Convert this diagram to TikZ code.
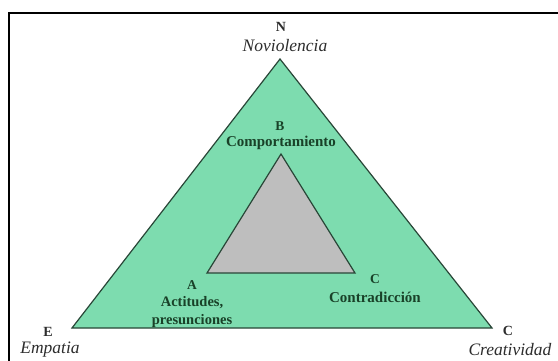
\documentclass[tikz,border=0pt]{standalone}
\usepackage{fontspec}
\setmainfont{Liberation Serif}
\definecolor{mint}{RGB}{125,220,175}
\definecolor{innergray}{RGB}{190,190,190}
\definecolor{edge}{RGB}{40,70,55}
\definecolor{lblgreen}{RGB}{25,65,40}
\definecolor{lblgray}{RGB}{45,45,45}
\tikzset{
  tri/.style={draw=edge, line width=1.2pt, line join=miter},
  letter/.style={inner sep=0pt, font=\fontsize{14}{14}\selectfont\bfseries, text=lblgray},
  innerletter/.style={inner sep=0pt, font=\fontsize{13.5}{13.5}\selectfont\bfseries, text=lblgreen},
  innerlbl/.style={inner sep=0pt, align=center, text=lblgreen},
  outerlbl/.style={inner sep=0pt, text=lblgray, font=\fontsize{17.5}{17.5}\selectfont\itshape},
}
\begin{document}
\begin{tikzpicture}[x=1pt,y=-1pt]
\useasboundingbox[fill=white] (0,0) rectangle (558,360);
% frame (top and left edges)
\coordinate (fTL) at (9,13);
\coordinate (fTR) at (560,13);
\coordinate (fBL) at (9,362);
\draw[line width=1.5pt] (fBL) -- (fTL) -- (fTR);
% outer triangle
\coordinate (Nv) at (280,59);
\coordinate (Ev) at (72,328);
\coordinate (Cv) at (492,328);
\filldraw[tri, fill=mint] (Nv) -- (Ev) -- (Cv) -- cycle;
% inner triangle
\coordinate (Bv) at (281,154);
\coordinate (Av) at (207,273);
\coordinate (Iv) at (355,273);
\filldraw[tri, fill=innergray] (Bv) -- (Av) -- (Iv) -- cycle;
% outer labels
\node[letter] (N) at (281,27) {N};
\node[outerlbl] (Nl) at (285,46) {Noviolencia};
\node[letter] (E) at (48,332) {E};
\node[outerlbl] (El) at (50,349.5) {Empatia};
\node[letter] (C) at (508,331) {C};
\node[outerlbl] (Cl) at (510,349.5) {Creatividad};
% inner labels
\node[innerletter] (B) at (280,126) {B};
\node[innerlbl, font=\fontsize{15}{15}\selectfont\bfseries] (Bl) at (281,143) {Comportamiento};
\node[innerletter] (A) at (192,285) {A};
\node[innerlbl, font=\fontsize{14.5}{18}\selectfont\bfseries] (Al) at (192,312) {Actitudes,\\presunciones};
\node[innerletter] (Ci) at (375,279) {C};
\node[innerlbl, font=\fontsize{15}{15}\selectfont\bfseries] (Cil) at (375,297) {Contradicción};
\end{tikzpicture}
\end{document}
